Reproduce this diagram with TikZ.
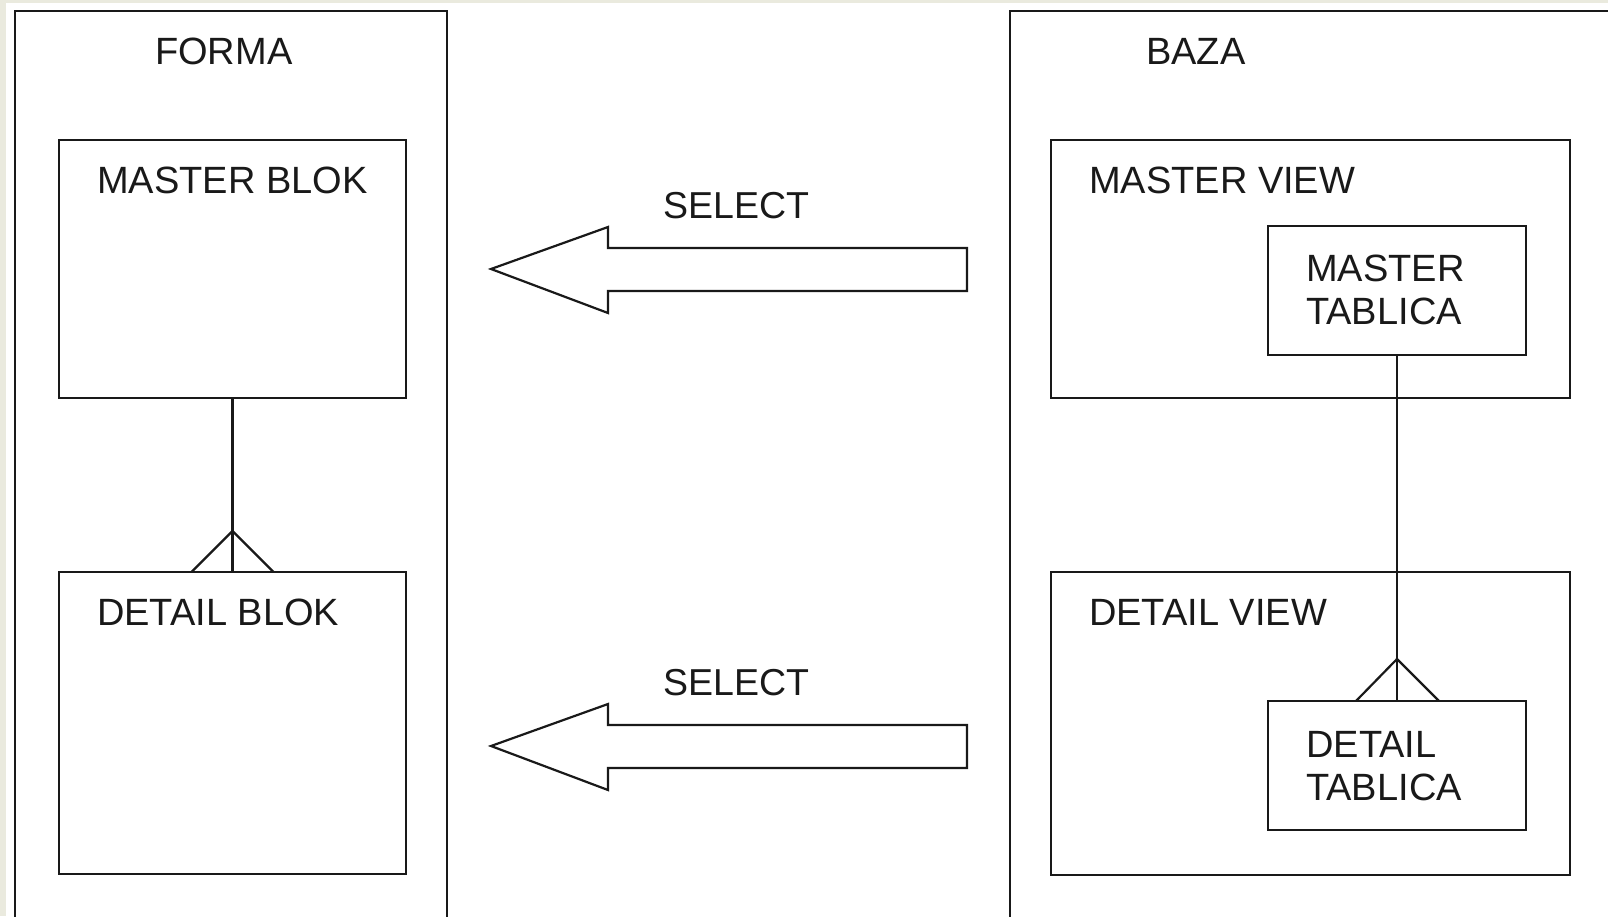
\documentclass[tikz,border=0pt]{standalone}
\usepackage{fontspec}
\setmainfont{Liberation Sans}
\usetikzlibrary{calc}
\definecolor{pagebeige}{RGB}{234,234,222}
\definecolor{ink}{RGB}{25,25,25}
\begin{document}
\begin{tikzpicture}[x=1pt,y=-1pt,
  box/.style={draw=ink, line width=2.4pt, inner sep=0pt, outer sep=0pt, anchor=north west},
  lbl/.style={anchor=base west, inner sep=0pt, font=\fontsize{38}{43}\selectfont, text=ink},
  lblm/.style={anchor=north west, inner sep=0pt, align=left, font=\fontsize{38}{43}\selectfont, text=ink},
  sel/.style={anchor=base west, inner sep=0pt, font=\fontsize{37.5}{42}\selectfont, text=ink},
  link/.style={draw=ink, line width=2.2pt},
  bigarrow/.style={draw=ink, line width=2.2pt, fill=white, line join=miter}]
\useasboundingbox (0,0) rectangle (1608,916);
\clip (0,0) rectangle (1608,916);
\fill[pagebeige] (0,0) rectangle (1608,916);
\fill[white] (6,3) rectangle (1608,916);

% outer containers
\node[box, minimum width=432, minimum height=924] (forma) at (15,11) {};
\node[box, minimum width=620, minimum height=924] (baza) at (1010,11) {};

% left blocks
\node[box, minimum width=347, minimum height=258] (mb) at (59,140) {};
\node[box, minimum width=347, minimum height=302] (db) at (59,572) {};

% right views and tables
\node[box, minimum width=519, minimum height=258] (mv) at (1051,140) {};
\node[box, minimum width=519, minimum height=303] (dv) at (1051,572) {};
\node[box, minimum width=258, minimum height=129] (mt) at (1268,226) {};
\node[box, minimum width=258, minimum height=129] (dt) at (1268,701) {};

% labels
\node[lbl] (tforma) at (155,64) {FORMA};
\node[lbl] (tbaza) at (1146,64) {BAZA};
\node[lbl] (tmb) at (97,193) {MASTER BLOK};
\node[lbl] (tdb) at (97,625) {DETAIL BLOK};
\node[lbl] (tmv) at (1089,193) {MASTER VIEW};
\node[lbl] (tdv) at (1089,625) {DETAIL VIEW};
\node[lblm] (tmt) at (1306,255) {MASTER\\TABLICA};
\node[lblm] (tdt) at (1306,731) {DETAIL\\TABLICA};
\node[sel] (sel1) at (663,218) {SELECT};
\node[sel] (sel2) at (663,695) {SELECT};

% relationship connectors with crow's feet
\draw[link] (mb.south) -- (db.north);
\draw[link] ($(db.north)+(-41,0)$) -- ($(db.north)+(0,-41)$) -- ($(db.north)+(41,0)$);
\draw[link] (mt.south) -- (dt.north);
\draw[link] ($(dt.north)+(-41,0)$) -- ($(dt.north)+(0,-42)$) -- ($(dt.north)+(42,0)$);

% block arrows
\foreach \dy/\nm in {0/a1, 477/a2}{
  \coordinate (\nm) at (491,269+\dy);
  \draw[bigarrow] (\nm) -- ++(117,-42) -- ++(0,21) -- ++(359,0) -- ++(0,43)
     -- ++(-359,0) -- ++(0,22) -- cycle;
}
\end{tikzpicture}
\end{document}
